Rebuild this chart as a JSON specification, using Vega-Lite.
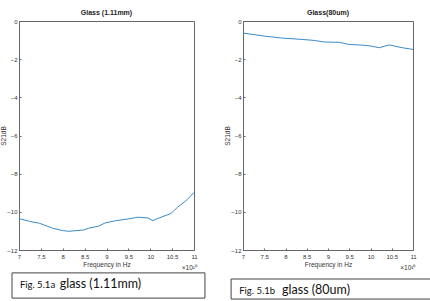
{
  "$schema": "https://vega.github.io/schema/vega-lite/v6.json",
  "background": "white",
  "padding": {"left": 0, "top": 8, "right": 0, "bottom": 0},
  "spacing": 49,
  "bounds": "flush",
  "config": {
    "view": {"stroke": "#666", "strokeWidth": 1},
    "font": "Liberation Sans",
    "axis": {
      "grid": false,
      "domainColor": "#666",
      "tickColor": "#666",
      "tickSize": -2,
      "labelFontSize": 6,
      "labelColor": "#333",
      "labelOverlap": false,
      "labelFlush": false,
      "labelBound": false,
      "titleFontSize": 6.5,
      "titleFontWeight": "normal",
      "titleColor": "#333"
    },
    "title": {"fontSize": 7, "fontWeight": "bold", "color": "#222", "offset": 2}
  },
  "datasets": {
    "thick": [
      {"f": 7.0, "s": -10.35}, {"f": 7.24, "s": -10.5}, {"f": 7.47, "s": -10.6},
      {"f": 7.77, "s": -10.86}, {"f": 7.99, "s": -10.98}, {"f": 8.14, "s": -11.02},
      {"f": 8.48, "s": -10.95}, {"f": 8.59, "s": -10.86}, {"f": 8.82, "s": -10.75},
      {"f": 8.97, "s": -10.58}, {"f": 9.2, "s": -10.47}, {"f": 9.5, "s": -10.37},
      {"f": 9.72, "s": -10.28}, {"f": 9.95, "s": -10.32}, {"f": 10.06, "s": -10.46},
      {"f": 10.17, "s": -10.35}, {"f": 10.47, "s": -10.09}, {"f": 10.62, "s": -9.77},
      {"f": 10.85, "s": -9.35}, {"f": 11.0, "s": -8.98}
    ],
    "thin": [
      {"f": 7.0, "s": -0.63}, {"f": 7.5, "s": -0.79}, {"f": 7.89, "s": -0.89},
      {"f": 8.36, "s": -0.96}, {"f": 8.68, "s": -1.02}, {"f": 8.91, "s": -1.1},
      {"f": 9.27, "s": -1.12}, {"f": 9.5, "s": -1.23}, {"f": 9.78, "s": -1.26},
      {"f": 9.97, "s": -1.3}, {"f": 10.21, "s": -1.4}, {"f": 10.44, "s": -1.25},
      {"f": 10.72, "s": -1.39}, {"f": 11.0, "s": -1.49}
    ],
    "one": [{}]
  },
  "hconcat": [
    {
      "width": 175,
      "height": 229,
      "title": {"text": "Glass (1.11mm)"},
      "layer": [
        {
          "data": {"name": "thick"},
          "mark": {"type": "line", "color": "#3a8bc6", "strokeWidth": 1},
          "encoding": {
            "x": {"field": "f", "type": "quantitative", "scale": {"domain": [7, 11], "nice": false, "zero": false},
              "axis": {"values": [7, 7.5, 8, 8.5, 9, 9.5, 10, 10.5, 11], "format": "~g", "title": "Frequency in Hz", "labelPadding": 5, "titlePadding": 2}},
            "y": {"field": "s", "type": "quantitative", "scale": {"domain": [-12, 0], "nice": false},
              "axis": {"values": [0, -2, -4, -6, -8, -10, -12], "format": "~g", "title": "S21dB", "labelPadding": 4, "titlePadding": 0}}
          }
        },
        {
          "data": {"name": "one"},
          "mark": {"type": "rect", "fill": "white", "stroke": "#444", "strokeWidth": 1, "clip": false},
          "encoding": {
            "x": {"datum": 6.84, "type": "quantitative", "axis": {"values": [7, 7.5, 8, 8.5, 9, 9.5, 10, 10.5, 11], "format": "~g", "title": "Frequency in Hz", "labelPadding": 5, "titlePadding": 2}},
            "x2": {"datum": 11.25},
            "y": {"datum": -13.2, "type": "quantitative", "axis": {"values": [0, -2, -4, -6, -8, -10, -12], "format": "~g", "title": "S21dB", "labelPadding": 4, "titlePadding": 0}},
            "y2": {"datum": -14.52}
          }
        },
        {
          "data": {"name": "one"},
          "mark": {"type": "text", "text": "Fig. 5.1a", "align": "left", "baseline": "alphabetic", "fontSize": 9.5, "font": "Lato", "color": "#111", "clip": false},
          "encoding": {
            "x": {"datum": 7.02, "type": "quantitative", "axis": {"values": [7, 7.5, 8, 8.5, 9, 9.5, 10, 10.5, 11], "format": "~g", "title": "Frequency in Hz", "labelPadding": 5, "titlePadding": 2}},
            "y": {"datum": -13.99, "type": "quantitative", "axis": {"values": [0, -2, -4, -6, -8, -10, -12], "format": "~g", "title": "S21dB", "labelPadding": 4, "titlePadding": 0}}
          }
        },
        {
          "data": {"name": "one"},
          "mark": {"type": "text", "text": "glass (1.11mm)", "align": "left", "baseline": "alphabetic", "fontSize": 12.5, "font": "Lato", "color": "#111", "clip": false},
          "encoding": {
            "x": {"datum": 7.93, "type": "quantitative", "axis": {"values": [7, 7.5, 8, 8.5, 9, 9.5, 10, 10.5, 11], "format": "~g", "title": "Frequency in Hz", "labelPadding": 5, "titlePadding": 2}},
            "y": {"datum": -13.99, "type": "quantitative", "axis": {"values": [0, -2, -4, -6, -8, -10, -12], "format": "~g", "title": "S21dB", "labelPadding": 4, "titlePadding": 0}}
          }
        },
        {
          "data": {"name": "one"},
          "mark": {"type": "text", "text": "×10¹⁰", "align": "left", "baseline": "middle", "fontSize": 6.5, "color": "#333", "clip": false},
          "encoding": {
            "x": {"datum": 10.72, "type": "quantitative", "axis": {"values": [7, 7.5, 8, 8.5, 9, 9.5, 10, 10.5, 11], "format": "~g", "title": "Frequency in Hz", "labelPadding": 5, "titlePadding": 2}},
            "y": {"datum": -12.95, "type": "quantitative", "axis": {"values": [0, -2, -4, -6, -8, -10, -12], "format": "~g", "title": "S21dB", "labelPadding": 4, "titlePadding": 0}}
          }
        }
      ]
    },
    {
      "width": 170,
      "height": 229,
      "title": {"text": "Glass(80um)"},
      "layer": [
        {
          "data": {"name": "thin"},
          "mark": {"type": "line", "color": "#3a8bc6", "strokeWidth": 1},
          "encoding": {
            "x": {"field": "f", "type": "quantitative", "scale": {"domain": [7, 11], "nice": false, "zero": false},
              "axis": {"values": [7, 7.5, 8, 8.5, 9, 9.5, 10, 10.5, 11], "format": "~g", "title": "Frequency in Hz", "labelPadding": 5, "titlePadding": 2}},
            "y": {"field": "s", "type": "quantitative", "scale": {"domain": [-12, 0], "nice": false},
              "axis": {"values": [0, -2, -4, -6, -8, -10, -12], "format": "~g", "title": "S21dB", "labelPadding": 4, "titlePadding": 0}}
          }
        },
        {
          "data": {"name": "one"},
          "mark": {"type": "rect", "fill": "white", "stroke": "#444", "strokeWidth": 1, "clip": false},
          "encoding": {
            "x": {"datum": 6.72, "type": "quantitative", "axis": {"values": [7, 7.5, 8, 8.5, 9, 9.5, 10, 10.5, 11], "format": "~g", "title": "Frequency in Hz", "labelPadding": 5, "titlePadding": 2}},
            "x2": {"datum": 11.6},
            "y": {"datum": -13.52, "type": "quantitative", "axis": {"values": [0, -2, -4, -6, -8, -10, -12], "format": "~g", "title": "S21dB", "labelPadding": 4, "titlePadding": 0}},
            "y2": {"datum": -14.57}
          }
        },
        {
          "data": {"name": "one"},
          "mark": {"type": "text", "text": "Fig. 5.1b", "align": "left", "baseline": "alphabetic", "fontSize": 9.5, "font": "Lato", "color": "#111", "clip": false},
          "encoding": {
            "x": {"datum": 6.91, "type": "quantitative", "axis": {"values": [7, 7.5, 8, 8.5, 9, 9.5, 10, 10.5, 11], "format": "~g", "title": "Frequency in Hz", "labelPadding": 5, "titlePadding": 2}},
            "y": {"datum": -14.3, "type": "quantitative", "axis": {"values": [0, -2, -4, -6, -8, -10, -12], "format": "~g", "title": "S21dB", "labelPadding": 4, "titlePadding": 0}}
          }
        },
        {
          "data": {"name": "one"},
          "mark": {"type": "text", "text": "glass (80um)", "align": "left", "baseline": "alphabetic", "fontSize": 12.5, "font": "Lato", "color": "#111", "clip": false},
          "encoding": {
            "x": {"datum": 7.92, "type": "quantitative", "axis": {"values": [7, 7.5, 8, 8.5, 9, 9.5, 10, 10.5, 11], "format": "~g", "title": "Frequency in Hz", "labelPadding": 5, "titlePadding": 2}},
            "y": {"datum": -14.3, "type": "quantitative", "axis": {"values": [0, -2, -4, -6, -8, -10, -12], "format": "~g", "title": "S21dB", "labelPadding": 4, "titlePadding": 0}}
          }
        },
        {
          "data": {"name": "one"},
          "mark": {"type": "text", "text": "×10¹⁰", "align": "left", "baseline": "middle", "fontSize": 6.5, "color": "#333", "clip": false},
          "encoding": {
            "x": {"datum": 10.7, "type": "quantitative", "axis": {"values": [7, 7.5, 8, 8.5, 9, 9.5, 10, 10.5, 11], "format": "~g", "title": "Frequency in Hz", "labelPadding": 5, "titlePadding": 2}},
            "y": {"datum": -12.95, "type": "quantitative", "axis": {"values": [0, -2, -4, -6, -8, -10, -12], "format": "~g", "title": "S21dB", "labelPadding": 4, "titlePadding": 0}}
          }
        }
      ]
    }
  ]
}
